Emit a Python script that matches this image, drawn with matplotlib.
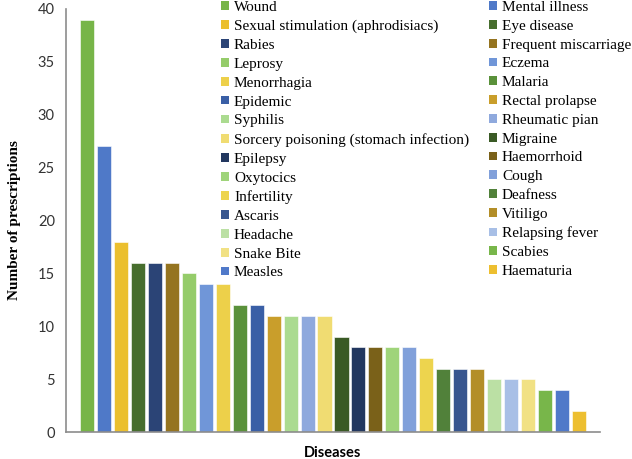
import matplotlib
matplotlib.use("Agg")
import matplotlib.pyplot as plt
from matplotlib.patches import Patch

diseases = ["Wound", "Mental illness", "Sexual stimulation (aphrodisiacs)", "Eye disease",
            "Rabies", "Frequent miscarriage", "Leprosy", "Eczema", "Menorrhagia", "Malaria",
            "Epidemic", "Rectal prolapse", "Syphilis", "Rheumatic pian",
            "Sorcery poisoning (stomach infection)", "Migraine", "Epilepsy", "Haemorrhoid",
            "Oxytocics", "Cough", "Infertility", "Deafness", "Ascaris", "Vitiligo",
            "Headache", "Relapsing fever", "Snake Bite", "Scabies", "Measles", "Haematuria"]
prescriptions = [39, 27, 18, 16, 16, 16, 15, 14, 14, 12, 12, 11, 11, 11, 11,
                 9, 8, 8, 8, 8, 7, 6, 6, 6, 5, 5, 5, 4, 4, 2]
colors = ["#77B548", "#4F79C8", "#EBBF2E", "#476E2E", "#2B4476", "#957420",
          "#95CC6A", "#7096D8", "#EDD04A", "#5A913A", "#3A5FA6", "#C99E2B",
          "#ABDB90", "#8FA9DD", "#F0DC72", "#3A5A25", "#22375F", "#7A6119",
          "#9FD47A", "#81A0DA", "#EDD44E", "#51813A", "#38568F", "#B38E28",
          "#BBE0A4", "#A8BFE6", "#F1E184", "#78B64A", "#5079C9", "#EDBF30"]
yticks = [0, 5, 10, 15, 20, 25, 30, 35, 40]

W, H = 632, 459
fig = plt.figure(figsize=(W / 100, H / 100), dpi=100)
ax = fig.add_axes([66 / W, (H - 432) / H, 534 / W, 423 / H])

x = list(range(len(diseases)))
ax.bar(x, prescriptions, width=0.83, color=colors, edgecolor="white", linewidth=0.4)

ax.set_xlim(-1.25, len(diseases) + 0.25)
ax.set_ylim(0, 40)
ax.set_yticks(yticks)
ax.set_yticklabels([str(t) for t in yticks], fontfamily="Lato", fontsize=10.5, color="#333333")
ax.set_xticks([])
ax.tick_params(axis="y", length=0, pad=8)
for s in ["top", "right"]:
    ax.spines[s].set_visible(False)
for s in ["left", "bottom"]:
    ax.spines[s].set_color("#8c8c8c")
    ax.spines[s].set_linewidth(1.2)

ax.set_ylabel("Number of prescriptions", fontfamily="Liberation Serif", fontweight="bold",
              fontsize=11, labelpad=12)
ax.set_xlabel("Diseases", fontfamily="Lato", fontweight="bold", fontsize=10.5, labelpad=10)

handles = [Patch(facecolor=c, edgecolor="none", label=d) for d, c in zip(diseases, colors)]
# legend is row-major in reference; matplotlib fills columns first
ordered = handles[0::2] + handles[1::2]
leg = fig.legend(handles=ordered, labels=[h.get_label() for h in ordered], ncol=2,
                 loc="upper left", bbox_to_anchor=(221 / W, 1 - 1 / H), frameon=False,
                 prop={"family": "Liberation Serif", "size": 11},
                 handlelength=0.5, handleheight=0.5, handletextpad=0.35,
                 labelspacing=0.38, columnspacing=1.3, borderpad=0, borderaxespad=0)

fig.savefig("out.png", dpi=100)
